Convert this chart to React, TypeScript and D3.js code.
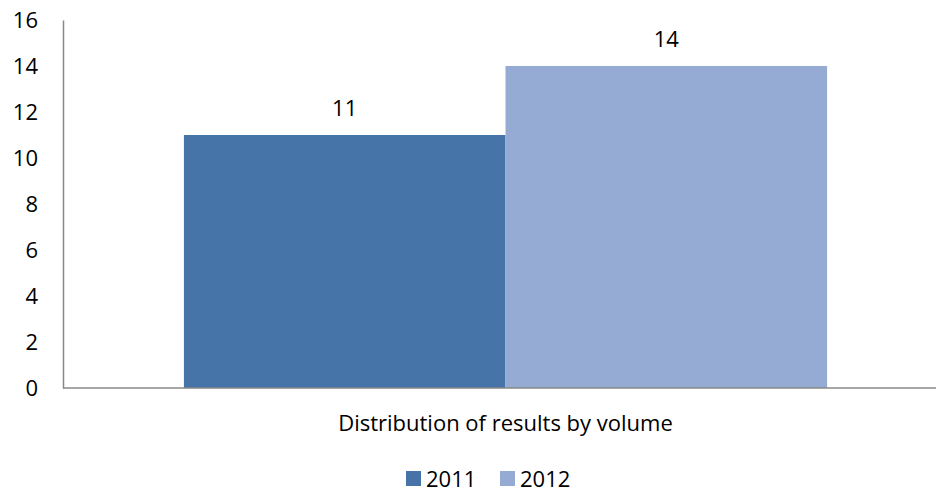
import { useEffect, useRef } from "react";
import * as d3 from "d3";

const categories = ["Distribution of results by volume"];
const seriesNames = ["2011", "2012"];
const values2011 = [11];
const values2012 = [14];
const yTicks = [0, 2, 4, 6, 8, 10, 12, 14, 16];
const colors = ["#4674a8", "#95abd3"];

const App = () => {
  const svgRef = useRef<SVGSVGElement | null>(null);

  useEffect(() => {
    if (!svgRef.current) return;
    const width = 937;
    const height = 492;
    const left = 63;
    const top = 20;
    const bottom = 388;
    const font = "Open Sans, Liberation Sans, sans-serif";
    const fs = 22;

    const svg = d3.select(svgRef.current).attr("width", width).attr("height", height);
    svg.selectAll("*").remove();

    const series = [values2011, values2012];

    const y = d3.scaleLinear().domain([0, 16]).range([bottom, top]);
    const x0 = d3.scaleBand().domain(categories).range([left, 948]).paddingOuter(0.188).paddingInner(0);
    const x1 = d3.scaleBand().domain(seriesNames).range([0, x0.bandwidth()]).padding(0);

    // y axis
    const yAxis = svg
      .append("g")
      .attr("transform", `translate(${left},0)`)
      .call(d3.axisLeft(y).tickValues(yTicks).tickSize(0).tickPadding(25).tickFormat(d3.format("d")));
    yAxis.select(".domain").attr("stroke", "#888").attr("stroke-width", 1.5);
    yAxis.selectAll("text").attr("font-family", font).attr("font-size", fs).attr("fill", "#000");

    // bars
    categories.forEach((cat, ci) => {
      seriesNames.forEach((s, si) => {
        const v = series[si][ci];
        const bx = (x0(cat) || 0) + (x1(s) || 0);
        svg
          .append("rect")
          .attr("x", bx)
          .attr("y", y(v))
          .attr("width", x1.bandwidth())
          .attr("height", bottom - y(v))
          .attr("fill", colors[si]);
        svg
          .append("text")
          .attr("x", bx + x1.bandwidth() / 2)
          .attr("y", y(v) - 19)
          .attr("text-anchor", "middle")
          .attr("font-family", font)
          .attr("font-size", fs)
          .text(v);
      });
      svg
        .append("text")
        .attr("x", (x0(cat) || 0) + x0.bandwidth() / 2)
        .attr("y", 431)
        .attr("text-anchor", "middle")
        .attr("font-family", font)
        .attr("font-size", fs)
        .text(cat);
    });

    // x axis line
    svg
      .append("line")
      .attr("x1", left)
      .attr("x2", 936)
      .attr("y1", bottom)
      .attr("y2", bottom)
      .attr("stroke", "#888")
      .attr("stroke-width", 1.5);

    // legend
    const legendX = [406, 500];
    seriesNames.forEach((s, i) => {
      const g = svg.append("g").attr("transform", `translate(${legendX[i]},471)`);
      g.append("rect").attr("width", 15).attr("height", 15).attr("fill", colors[i]);
      g.append("text")
        .attr("x", 20)
        .attr("y", 16)
        .attr("font-family", font)
        .attr("font-size", fs)
        .text(s);
    });
  }, []);

  return (
    <div style={{ position: "absolute", left: 0, top: 0 }}>
      <svg ref={svgRef}></svg>
    </div>
  );
};

export default App;
